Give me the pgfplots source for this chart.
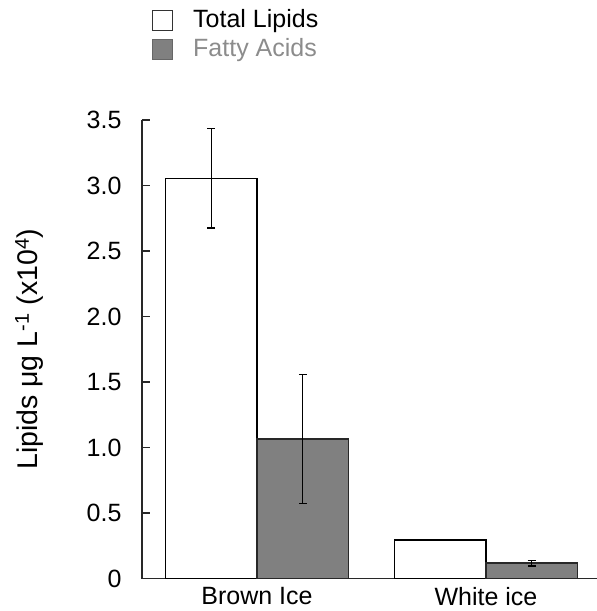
\documentclass[border=0pt]{standalone}
\usepackage{fontspec}
\setmainfont{Liberation Sans}
\usepackage{pgfplots}
\pgfplotsset{compat=1.18}
\definecolor{barGray}{RGB}{128,128,128}
\definecolor{legGray}{RGB}{140,140,140}
\definecolor{axGray}{RGB}{40,40,40}
\pgfplotsset{sqlegend/.style={legend image code/.code={\draw[##1] (0bp,-10bp) rectangle (20bp,10bp);}}}
\begin{document}
\fontsize{25bp}{30bp}\selectfont
\begin{tikzpicture}
\useasboundingbox (-142bp,-32.5bp) rectangle (455bp,578.5bp);
\begin{axis}[
  at={(0,0)}, anchor=south west,
  scale only axis, width=455bp, height=458.5bp,
  xmin=-0.502, xmax=1.485, ymin=0, ymax=3.5,
  axis x line*=bottom, axis y line*=left,
  axis line style={axGray, line width=1.2bp, -},
  ybar=0pt, bar width=0.4,
  xtick={0,1}, xticklabels={Brown Ice, White ice},
  x tick style={draw=none},
  ytick={0,0.5,1,1.5,2,2.5,3,3.5},
  yticklabels={0,0.5,1.0,1.5,2.0,2.5,3.0,3.5},
  tick align=inside, major tick length=8bp,
  y tick style={axGray, line width=1.2bp},
  yticklabel style={font=\fontsize{25bp}{30bp}\selectfont, xshift=-12bp},
  xticklabel style={font=\fontsize{25bp}{30bp}\selectfont},
  ylabel={Lipids μg L\textsuperscript{-1} (x10\textsuperscript{4})},
  ylabel style={font=\fontsize{28.5bp}{32bp}\selectfont, at={(axis description cs:-0.229,0.5)}, anchor=base},
  legend style={at={(axis description cs:0.022,1.242)}, anchor=north west, draw=none, fill=none,
    font=\fontsize{25bp}{27bp}\selectfont, row sep=7bp, column sep=20bp, inner sep=0pt,
    nodes={inner sep=0pt}},
  legend cell align=left,
]
\addlegendimage{sqlegend, fill=white, draw=black!80, line width=1bp}
\addlegendentry{Total Lipids}
\addlegendimage{sqlegend, fill=barGray, draw=black!60, line width=1bp}
\addlegendentry{\textcolor{legGray}{Fatty Acids}}
\addplot[fill=white, draw=black, line width=1.2bp, forget plot, bar shift=-0.2,
  error bars/.cd, y dir=both, y explicit,
  error bar style={line width=1.2bp, black},
  error mark options={rotate=90, mark size=4bp, line width=1.2bp, black}]
  coordinates {(0,3.055) +- (0,0.38) (1,0.294) +- (0,0.006)};
\addplot[fill=barGray, draw=axGray, line width=1.2bp, forget plot, bar shift=0.2,
  error bars/.cd, y dir=both, y explicit,
  error bar style={line width=1.2bp, black},
  error mark options={rotate=90, mark size=4bp, line width=1.2bp, black}]
  coordinates {(0,1.065) +- (0,0.49) (1,0.118) +- (0,0.022)};
\end{axis}
\end{tikzpicture}
\end{document}
